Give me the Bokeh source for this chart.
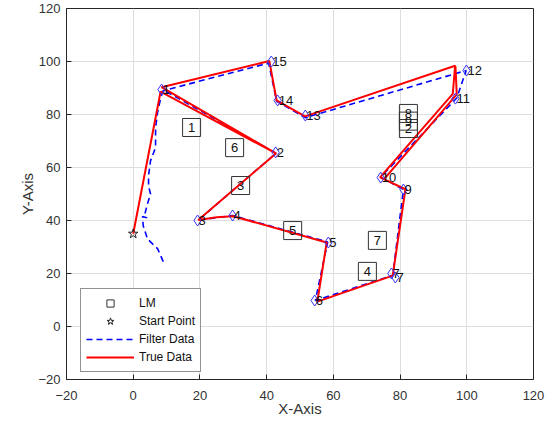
from bokeh.plotting import figure
from bokeh.models import Range1d, FixedTicker, Legend, LegendItem, ColumnDataSource
from bokeh.core.properties import value
from bokeh.embed import file_html
from bokeh.resources import INLINE

# ---------------- data ----------------
# waypoints (blue diamonds) and their labels
wp_x = [8.5, 42.7, 19.3, 29.8, 58.5, 54.4, 77.4, 78.6, 81.0, 74.2, 96.6, 99.9, 51.6, 43.3, 41.4]
wp_y = [89.4, 65.7, 40.0, 41.9, 31.7, 9.8, 20.0, 18.5, 51.7, 56.2, 86.0, 96.6, 79.6, 85.3, 100.0]
wp_labels = ["1", "2", "3", "4", "5", "6", "7", "7", "9", "10", "11", "12", "13", "14", "15"]

# landmarks (LM squares)
lm_x = [17.5, 82.5, 32.2, 70.2, 47.8, 30.4, 73.2, 82.5, 82.5]
lm_y = [75.1, 74.7, 53.2, 20.8, 36.2, 67.5, 32.5, 80.4, 77.5]
lm_labels = ["1", "2", "3", "4", "5", "6", "7", "8", "9"]

# start point
start_x = [0.0]
start_y = [35.0]

# filter data (blue dashed)
filter_x = [9.0, 7.3, 4.3, 3.0, 2.8, 4.0, 3.6, 4.3, 5.2, 4.6, 4.6, 5.2, 6.7, 6.7, 7.3, 8.2, 9.0,
            42.8, 19.5, 29.8, 58.3, 54.6, 77.8, 81.0, 74.2, 97.0, 99.8, 51.6, 43.0, 40.6, 9.0]
filter_y = [24.5, 29.4, 33.0, 38.0, 41.5, 41.0, 43.0, 46.4, 50.0, 53.0, 57.0, 62.6, 67.5, 75.0, 80.8, 86.0, 89.3,
            65.4, 40.1, 41.9, 31.9, 9.8, 19.3, 51.7, 56.4, 86.2, 96.6, 78.8, 85.0, 99.4, 89.0]

# true data (red), second parallel pass after the NaN break
true_x = [0.0, 8.2, 42.8, 19.5, 25.0, 30.0, 58.0, 55.2, 77.8, 81.6, 74.0, 95.8, 96.5, 51.5, 43.0, 40.8, 8.5, 42.8,
          float("nan"), 74.0, 75.2, 97.0, 96.6]
true_y = [35.0, 88.6, 65.3, 40.2, 41.2, 41.6, 31.7, 9.4, 19.2, 51.8, 56.3, 87.8, 98.4, 79.3, 85.3, 100.2, 90.3, 65.3,
          float("nan"), 56.3, 55.6, 87.6, 98.2]

x_ticks = [-20, 0, 20, 40, 60, 80, 100, 120]
y_ticks = [-20, 0, 20, 40, 60, 80, 100, 120]

FONT = "Liberation Sans"
AX = "#262626"

p = figure(width=553, height=424, x_range=Range1d(-20, 120), y_range=Range1d(-20, 120),
           output_backend="svg", toolbar_location=None,
           min_border_left=66, min_border_right=20, min_border_top=8, min_border_bottom=45)
p.background_fill_color = "white"
p.outline_line_color = AX
p.outline_line_width = 1

for ax in (p.xaxis[0], p.yaxis[0]):
    ax.major_tick_in = 5
    ax.major_tick_out = 0
    ax.minor_tick_line_color = None
    ax.axis_line_color = AX
    ax.major_tick_line_color = AX
    ax.major_label_text_font = FONT
    ax.major_label_text_font_size = "13px"
    ax.major_label_text_color = "#333333"
    ax.axis_label_text_font = FONT
    ax.axis_label_text_font_size = "15px"
    ax.axis_label_text_font_style = "normal"
    ax.axis_label_text_color = "#333333"
p.xaxis[0].ticker = FixedTicker(ticks=x_ticks)
p.yaxis[0].ticker = FixedTicker(ticks=y_ticks)
p.xaxis[0].axis_label = "X-Axis"
p.yaxis[0].axis_label = "Y-Axis"
p.xaxis[0].major_label_standoff = 11
p.yaxis[0].major_label_standoff = 6
p.xaxis[0].axis_label_standoff = -3
p.yaxis[0].axis_label_standoff = -1

p.xgrid.ticker = FixedTicker(ticks=x_ticks)
p.ygrid.ticker = FixedTicker(ticks=y_ticks)
p.xgrid.grid_line_color = "#dedede"
p.ygrid.grid_line_color = "#dedede"

f_r = p.line(filter_x, filter_y, line_color="#0000ff", line_width=1.6, line_dash="6 4")
t_r = p.line(true_x, true_y, line_color="#ff0000", line_width=2)

p.scatter(wp_x, wp_y, marker="diamond", size=11, fill_color=None, line_color="#3333ff", line_width=1)
p.text(wp_x, wp_y, text=wp_labels, text_font=value(FONT), text_font_size="13px",
       text_align="left", text_baseline="middle", x_offset=1, text_color="#111111")

lm_src = ColumnDataSource(dict(x=lm_x, y=lm_y, t=lm_labels))
lm_r = p.scatter("x", "y", source=lm_src, marker="square", size=18, fill_color=None,
                 line_color="#333333", line_width=1)
p.text("x", "y", text="t", source=lm_src, text_font=value(FONT), text_font_size="13px",
       text_align="center", text_baseline="middle", text_color="#111111")

s_r = p.scatter(start_x, start_y, marker="star", size=10, fill_color=None, line_color="#222222", line_width=1)

legend = Legend(items=[LegendItem(label="LM", renderers=[lm_r]),
                       LegendItem(label="Start Point", renderers=[s_r]),
                       LegendItem(label="Filter Data", renderers=[f_r]),
                       LegendItem(label="True Data", renderers=[t_r])],
                location=(14, 7))
legend.label_text_font = FONT
legend.label_text_font_size = "12px"
legend.label_text_color = "#111111"
legend.glyph_width = 48
legend.glyph_height = 18
legend.label_height = 18
legend.spacing = 0
legend.padding = 5
legend.margin = 0
legend.label_standoff = 5
legend.border_line_color = AX
legend.border_line_width = 1
legend.background_fill_alpha = 1
p.add_layout(legend, "center")

open("out.html", "w").write(file_html(p, INLINE))
